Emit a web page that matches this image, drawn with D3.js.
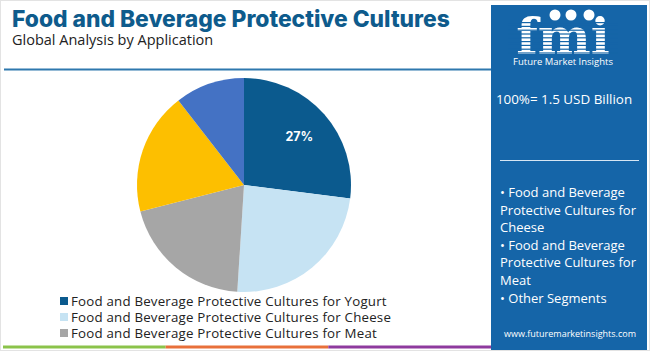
<!DOCTYPE html>
<html>
<head>
<meta charset="utf-8">
<script src="https://cdn.jsdelivr.net/npm/d3@7"></script>
<style>
  body { margin: 0; background: #fff; }
  svg { display: block; font-family: "Open Sans", "Noto Sans", sans-serif; }
</style>
</head>
<body>
<div class="chart"></div>
<script>
// values
const CATEGORIES = [
  "Food and Beverage Protective Cultures for Yogurt",
  "Food and Beverage Protective Cultures for Cheese",
  "Food and Beverage Protective Cultures for Meat",
  "Other Segments A",
  "Other Segments B",
];
const SHARES = [27, 24, 20, 18.5, 10.5];
const COLORS = ["#0b5a8e", "#c6e3f3", "#a6a6a6", "#fdbf00", "#4472c4"];
const LEGEND_COUNT = 3;
const SHOWN_LABELS = ["27%", "", "", "", ""];
const RIGHT_BULLETS = [
  "• Food and Beverage",
  "Protective Cultures for",
  "Cheese",
  "• Food and Beverage",
  "Protective Cultures for",
  "Meat",
  "• Other Segments",
];
const BAR_COLORS = ["#8bc34a", "#e8703a", "#8e3a9e"];

const W = 650, H = 351;
const svg = d3.select(".chart").append("svg").attr("width", W).attr("height", H);

// frame
svg.append("rect").attr("x", 0.5).attr("y", 0.5).attr("width", W - 1).attr("height", H - 1)
  .attr("fill", "none").attr("stroke", "#e3e3e3");

// title
svg.append("text").attr("x", 12).attr("y", 27)
  .attr("font-family", "Inter, sans-serif").attr("font-weight", 800).attr("font-size", 22.8)
  .attr("fill", "#0e5b8c").text("Food and Beverage Protective Cultures");
svg.append("text").attr("x", 12).attr("y", 45)
  .attr("font-size", 14.5).attr("fill", "#222").text("Global Analysis by Application");

// rule under title
svg.append("rect").attr("x", 4).attr("y", 68.5).attr("width", 487).attr("height", 2).attr("fill", "#2e78ae");

// bottom coloured bar
const barScale = d3.scaleBand().domain(d3.range(BAR_COLORS.length)).range([3, 491]);
svg.append("g").selectAll("rect").data(BAR_COLORS).join("rect")
  .attr("x", (d, i) => barScale(i)).attr("y", 345.5)
  .attr("width", barScale.bandwidth()).attr("height", 3).attr("fill", d => d);

// pie
const cx = 244, cy = 185, R = 107;
const pie = d3.pie().sort(null).value(d => d)(SHARES);
const arc = d3.arc().innerRadius(0).outerRadius(R);
const g = svg.append("g").attr("transform", `translate(${cx},${cy})`);
g.selectAll("path").data(pie).join("path")
  .attr("d", arc).attr("fill", (d, i) => COLORS[i]);
const labelArc = d3.arc().innerRadius(R * 0.69).outerRadius(R * 0.69);
g.selectAll("text").data(pie).join("text")
  .attr("transform", d => `translate(${labelArc.centroid(d)})`)
  .attr("text-anchor", "middle").attr("dy", "0.35em")
  .attr("font-family", "Inter, sans-serif").attr("font-weight", 700).attr("font-size", 12.5)
  .attr("fill", "#fff").text((d, i) => SHOWN_LABELS[i]);

// legend
const legY = d3.scaleLinear().domain([0, 1]).range([301, 317]);
const leg = svg.append("g").selectAll("g").data(CATEGORIES.slice(0, LEGEND_COUNT)).join("g")
  .attr("transform", (d, i) => `translate(60,${legY(i)})`);
leg.append("rect").attr("x", 0).attr("y", -4).attr("width", 8).attr("height", 8)
  .attr("fill", (d, i) => COLORS[i]);
leg.append("text").attr("x", 11).attr("dy", "0.35em").attr("font-size", 13.3)
  .attr("letter-spacing", 0.2).attr("fill", "#222").text(d => d);

// right panel
svg.append("rect").attr("x", 491).attr("y", 5).attr("width", 156).attr("height", 345).attr("fill", "#1565a8");

// logo
const logo = svg.append("g").attr("transform", "translate(563,0)");
logo.append("text").attr("x", 0).attr("y", 54).attr("text-anchor", "middle")
  .attr("font-family", "DejaVu Serif, serif").attr("font-weight", 700).attr("font-size", 50)
  .attr("fill", "#fff").attr("letter-spacing", 0).text("fmi");
logo.append("g").selectAll("rect").data(d3.range(9)).join("rect")
  .attr("x", -55).attr("y", d => 22 + d * 3.8).attr("width", 110).attr("height", 1.2)
  .attr("fill", "#1565a8");
logo.append("g").selectAll("circle").data([-8, 8, 26]).join("circle")
  .attr("cx", d => d).attr("cy", 15).attr("r", 5.5).attr("fill", "#fff");
logo.append("text").attr("x", 0).attr("y", 65).attr("text-anchor", "middle")
  .attr("font-size", 9.5).attr("fill", "#fff").text("Future Market Insights");

svg.append("text").attr("x", 564).attr("y", 104).attr("text-anchor", "middle")
  .attr("font-size", 13.4).attr("fill", "#fff").text("100%= 1.5 USD Billion");

svg.append("rect").attr("x", 500).attr("y", 160).attr("width", 139).attr("height", 1).attr("fill", "#d6e6f4");

svg.append("g").selectAll("text").data(RIGHT_BULLETS).join("text")
  .attr("x", 500).attr("y", (d, i) => 197 + i * 17.6)
  .attr("font-size", 13).attr("fill", "#fff").text(d => d);

svg.append("text").attr("x", 570).attr("y", 337).attr("text-anchor", "middle")
  .attr("font-size", 9).attr("fill", "#fff").text("www.futuremarketinsights.com");
</script>
</body>
</html>
